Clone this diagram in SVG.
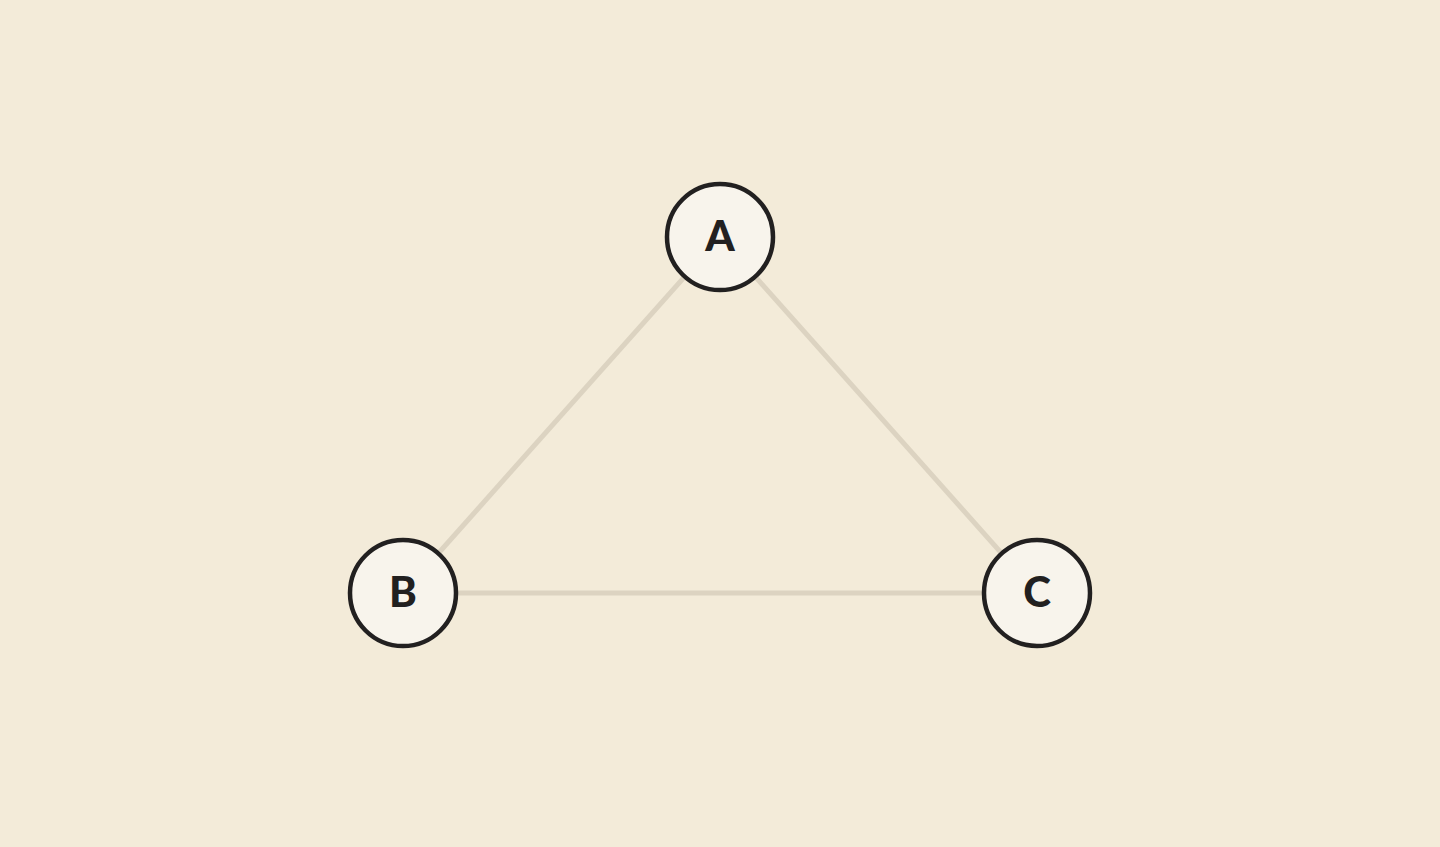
<svg xmlns="http://www.w3.org/2000/svg" width="1440" height="847" viewBox="0 0 1440 847">
<style>
.edge{stroke:#dcd3c1;stroke-width:5;fill:none}
.node circle{fill:#f8f4ec;stroke:#222020;stroke-width:4.5}
.node text{font-family:Lato,"Open Sans",sans-serif;font-weight:900;font-size:42px;fill:#222020;text-anchor:middle;dominant-baseline:central}
</style>
<rect width="1440" height="847" fill="#f3ebd9"/>
<g id="edges">
<line class="edge" x1="720" y1="237" x2="403" y2="593"/>
<line class="edge" x1="720" y1="237" x2="1037" y2="593"/>
<line class="edge" x1="403" y1="593" x2="1037" y2="593"/>
</g>
<g id="node-A" class="node"><circle cx="720" cy="237" r="53"/><text x="720" y="235">A</text></g>
<g id="node-B" class="node"><circle cx="403" cy="593" r="53"/><text x="403" y="591">B</text></g>
<g id="node-C" class="node"><circle cx="1037" cy="593" r="53"/><text x="1037" y="591">C</text></g>
</svg>
